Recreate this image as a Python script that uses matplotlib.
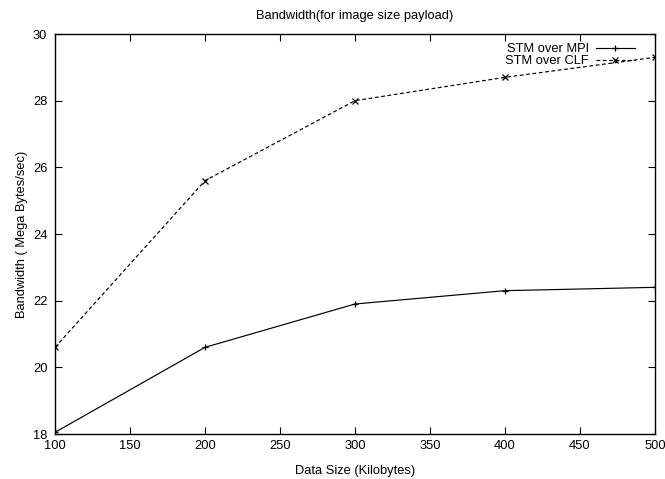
import matplotlib
matplotlib.use('Agg')
import matplotlib.pyplot as plt

# data
data_size = [100, 200, 300, 400, 500]
bw_mpi = [18.05, 20.6, 21.9, 22.3, 22.4]
bw_clf = [20.6, 25.6, 28.0, 28.7, 29.3]

x_ticks = [100, 150, 200, 250, 300, 350, 400, 450, 500]
y_ticks = [18, 20, 22, 24, 26, 28, 30]

plt.rcParams['font.family'] = ['Liberation Sans', 'DejaVu Sans']
fs = 9.3

fig = plt.figure(figsize=(6.65, 4.79), dpi=100)
ax = fig.add_axes([55 / 665, 1 - 434 / 479, 600 / 665, 400 / 479])

ax.plot(data_size, bw_mpi, color='black', lw=0.85, marker='+', ms=4.5, mew=0.9,
        label='STM over MPI')
ax.plot(data_size, bw_clf, color='black', lw=0.85, ls=(0, (3.2, 2.2)), marker='x',
        ms=4, mew=0.9, label='STM over CLF')

ax.set_xlim(100, 500)
ax.set_ylim(18, 30)
ax.set_xticks(x_ticks)
ax.set_yticks(y_ticks)
ax.tick_params(direction='in', top=True, right=True, length=5, width=0.8,
               labelsize=fs)
ax.tick_params(axis='y', pad=5.5)
ax.tick_params(axis='x', pad=4.5)
for s in ax.spines.values():
    s.set_linewidth(1.0)

ax.set_title('Bandwidth(for image size payload)', fontsize=fs, pad=11)
ax.set_xlabel('Data Size (Kilobytes)', fontsize=fs, labelpad=9.5)
ax.set_ylabel('Bandwidth ( Mega Bytes/sec)', fontsize=fs, labelpad=3.5)

ax.legend(loc='upper right', frameon=False, markerfirst=False, fontsize=fs,
          handlelength=3.0, handletextpad=0.55, labelspacing=0.0,
          borderaxespad=0.0, bbox_to_anchor=(0.975, 0.99))

plt.savefig('out.png', dpi=100)
